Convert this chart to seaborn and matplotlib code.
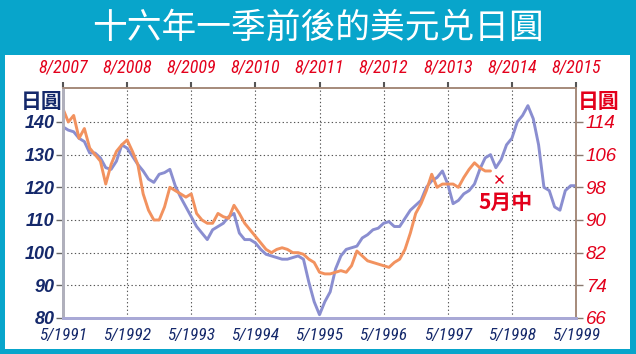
import matplotlib
matplotlib.use("Agg")
import matplotlib.pyplot as plt
import matplotlib.patches as mpatches
from matplotlib import font_manager as fm
import seaborn as sns
import pandas as pd
import numpy as np

# ---------------- data ----------------
bottom_labels = ["5/1991", "5/1992", "5/1993", "5/1994", "5/1995",
                 "5/1996", "5/1997", "5/1998", "5/1999"]
top_labels = ["8/2007", "8/2008", "8/2009", "8/2010", "8/2011",
              "8/2012", "8/2013", "8/2014", "8/2015"]
left_ticks = [80, 90, 100, 110, 120, 130, 140]
right_ticks = [66, 74, 82, 90, 98, 106, 114]

# USD/JPY monthly, May 1991 - May 1999 (left axis)
usdjpy_1991 = [138.5, 137.5, 137, 135, 134, 130.5, 130.5, 129, 126, 125.5,
               128, 133, 132, 129.5, 127, 125, 122.5, 121.5, 124, 124.5,
               125.5, 120.5, 117, 114, 111, 108, 106, 104, 107, 108,
               109, 111, 112, 106, 104, 104, 103, 101, 99.5, 99,
               98.5, 98, 98, 98.5, 99, 98, 91, 85, 81, 85,
               88, 95, 99, 101, 101.5, 102, 104.5, 105.5, 107, 107.5,
               109, 109.5, 108, 108, 110.5, 113, 114.5, 116, 120, 122,
               123, 125, 121, 115, 116, 118, 119, 121, 125.5, 129,
               130, 126, 128.5, 133, 135, 140, 142, 145, 141, 133,
               120, 119, 114, 113, 119, 120.5, 120.5]

# USD/JPY monthly, Aug 2007 - Apr 2014 (right axis)
usdjpy_2007 = [117.2, 114.0, 115.6, 110.0, 112.4, 107.6, 106.0, 104.4, 98.8, 103.6,
               106.8, 108.4, 109.6, 106.8, 103.6, 96.4, 92.4, 90.0, 90.0, 93.2,
               98.0, 97.2, 96.4, 95.6, 96.4, 91.6, 90.0, 89.2, 89.2, 91.6,
               90.8, 90.4, 93.6, 91.6, 89.2, 87.6, 86.0, 84.4, 82.8, 82.0,
               82.8, 83.2, 82.8, 82.0, 82.0, 81.6, 80.4, 79.6, 77.2, 76.8,
               76.8, 77.2, 77.6, 77.2, 78.8, 82.4, 81.2, 80.0, 79.6, 79.2,
               78.8, 78.4, 79.6, 80.4, 82.8, 86.8, 91.6, 94.0, 97.2, 101.2,
               98.0, 98.8, 98.8, 98.8, 98.0, 100.4, 102.4, 104.0, 102.8, 102.0,
               102.0]

mark_month = [81.5]   # mid-May 2014, months after 8/2007
mark_value = [100.0]
mark_label = "5月中"

title = "十六年一季前後的美元兑日圓"
unit_label = "日圓"

# ---------------- fonts ----------------
_fonts = list(fm.fontManager.ttflist)


def _w(w):
    if isinstance(w, str):
        return 700 if "bold" in w.lower() else 400
    return w


def italic_props(prefs, size, bold=False):
    for p in prefs:
        cands = [f for f in _fonts if f.name == p and f.style in ("italic", "oblique")]
        if bold:
            cands = [f for f in cands if _w(f.weight) >= 600]
        else:
            cands = [f for f in cands if _w(f.weight) < 600]
        if cands:
            return fm.FontProperties(fname=cands[0].fname, size=size)
    return fm.FontProperties(family="DejaVu Sans", style="oblique",
                             weight="bold" if bold else "normal", size=size)


NARROW = ["Liberation Sans Narrow", "Arial Narrow", "Roboto Condensed",
          "Liberation Sans", "Roboto", "Noto Sans", "DejaVu Sans"]
SANS = ["Liberation Sans", "Arial", "Roboto", "Noto Sans", "Lato", "Open Sans",
        "DejaVu Sans"]

fp_bottom = italic_props(NARROW, 12.5)
fp_top = italic_props(NARROW, 13)
fp_left = italic_props(SANS, 13, bold=True)
fp_right = italic_props(SANS, 13.5)

# ---------------- style ----------------
sns.set_style("white")
plt.rcParams["font.family"] = ["Liberation Sans", "DejaVu Sans"]
cjk = ["Noto Sans CJK TC", "Noto Sans CJK SC", "DejaVu Sans"]

NAVY = "#15296b"
RED = "#e3001b"
BLUE_LINE = "#8a8ed0"
ORANGE_LINE = "#f2925f"
TEAL = "#08a5cb"

W, H = 636, 354
fig = plt.figure(figsize=(W / 100, H / 100), dpi=100)
fig.patch.set_facecolor(TEAL)
fig.patches.append(mpatches.Rectangle((5 / W, 1 - 349 / H), 625 / W, 294 / H,
                                      transform=fig.transFigure,
                                      facecolor="white", edgecolor="none", zorder=-5))

ax = fig.add_axes([63 / W, 1 - 318 / H, 513 / W, 230 / H])
ax.set_facecolor("white")

df1 = pd.DataFrame({"m": np.arange(len(usdjpy_1991)), "v": usdjpy_1991})
df2 = pd.DataFrame({"m": np.arange(len(usdjpy_2007)), "v": usdjpy_2007})

sns.lineplot(data=df1, x="m", y="v", ax=ax, color=BLUE_LINE, linewidth=2.1, zorder=3)

ax2 = ax.twinx()
sns.lineplot(data=df2, x="m", y="v", ax=ax2, color=ORANGE_LINE, linewidth=2.1, zorder=2)
ax2.plot(mark_month, mark_value, marker="x", color=RED, markersize=6,
         markeredgewidth=1.0, linestyle="none", zorder=5)

xmax = (len(bottom_labels) - 1) * 12
ax.set_xlim(0, xmax)
ax.set_ylim(80, 150.4)
ax2.set_ylim(66, 66 + 0.8 * 70.4)
ax.set_xlabel("")
ax.set_ylabel("")
ax2.set_ylabel("")

ax.tick_params(axis="x", direction="out", length=4, width=1, color="#666666", pad=3)
ax.tick_params(axis="y", direction="out", length=5, width=1, color="#666666", pad=1)
ax2.tick_params(axis="y", direction="out", length=5, width=1, color="#8a7a70", pad=2)

xt = [i * 12 for i in range(len(bottom_labels))]
ax.set_xticks(xt)
ax.set_xticklabels(bottom_labels, fontproperties=fp_bottom, color=NAVY)
ax.set_yticks(left_ticks)
ax.set_yticklabels([str(t) for t in left_ticks], fontproperties=fp_left, color=NAVY)
ax2.set_yticks(right_ticks)
ax2.set_yticklabels([str(t) for t in right_ticks], fontproperties=fp_right, color=RED)

# top axis
axt = ax.secondary_xaxis("top")
axt.tick_params(axis="x", direction="out", length=4, width=1.5, color="#555555", pad=4)
axt.set_xticks(xt)
axt.set_xticklabels(top_labels, fontproperties=fp_top, color=RED)

# grid
ax.grid(True, color="#555555", linestyle=(0, (1.2, 2.2)), linewidth=0.8)
ax.set_axisbelow(True)

# spines
for a in (ax, ax2):
    a.spines["left"].set_color("#b0b0bc")
    a.spines["left"].set_linewidth(2)
    a.spines["bottom"].set_color("#a9a9d6")
    a.spines["bottom"].set_linewidth(2)
    a.spines["top"].set_color("#a58a7a")
    a.spines["top"].set_linewidth(1.2)
    a.spines["right"].set_color("#a58a7a")
    a.spines["right"].set_linewidth(1.2)
axt.spines["top"].set_visible(False)

# texts
fig.text(318 / W, 1 - 28 / H, title, color="white", fontsize=25,
         family=cjk, ha="center", va="center")
fig.text(42 / W, 1 - 101 / H, unit_label, color=NAVY, fontsize=15,
         family=cjk, fontweight="bold", ha="center", va="center")
fig.text(599 / W, 1 - 101 / H, unit_label, color=RED, fontsize=15,
         family=cjk, fontweight="bold", ha="center", va="center")
ax2.text(mark_month[0] + 1.3, mark_value[0] - 5.8, mark_label, color=RED, fontsize=15,
         family=cjk, fontweight="bold", ha="center", va="center", zorder=6)

fig.savefig("out.png", dpi=100, facecolor=fig.get_facecolor())
